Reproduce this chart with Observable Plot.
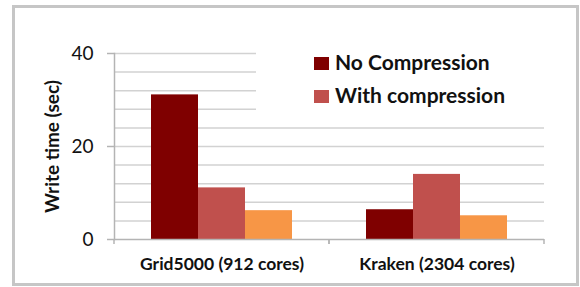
<!DOCTYPE html>
<html>
<head>
<meta charset="utf-8">
<script src="https://cdn.jsdelivr.net/npm/d3@7"></script>
<script src="https://cdn.jsdelivr.net/npm/@observablehq/plot@0.6"></script>
<style>
  html, body { margin: 0; padding: 0; background: #fff; }
  #wrap { position: relative; width: 580px; height: 287px; font-family: Lato, "Open Sans", sans-serif; }
  #border { position: absolute; left: 12px; top: 5px; width: 567px; height: 281px; box-sizing: border-box; border: 3px solid #c6c6c6; pointer-events: none; }
  #chart { position: absolute; left: 0; top: 0; }
  #legend { position: absolute; left: 256px; top: 48px; width: 292px; height: 70px; background: #fff; }
  .item { position: absolute; left: 58px; font-weight: bold; font-size: 21px; line-height: 24px; color: #111; white-space: nowrap; }
  .sw { position: absolute; width: 15px; height: 13px; left: 0; }
  .lbl { position: absolute; left: 21px; }
</style>
</head>
<body>
<div id="wrap">
  <div id="chart"></div>
  <div id="legend"></div>
  <div id="border"></div>
</div>
<script>
// Data
const groups = ["Grid5000 (912 cores)", "Kraken (2304 cores)"];
const series = ["No Compression", "With compression", "Other"];
const noCompression = [31.1, 6.4];
const withCompression = [11.1, 14.0];
const other = [6.2, 5.1];
const seriesColors = ["#7f0000", "#c0504d", "#f79646"];
const legendSeries = ["No Compression", "With compression"];
const yTicks = [0, 20, 40];
const gridValues = [4, 8, 12, 16, 20, 24, 28, 32, 36, 40];
const yLabel = "Write time (sec)";

const valuesBySeries = [noCompression, withCompression, other];
const data = [];
groups.forEach((g, gi) => {
  series.forEach((s, si) => data.push({group: g, series: s, value: valuesBySeries[si][gi]}));
});

const axisColor = "#b4b4b4";
const gridColor = "#d2d2d2";

// category boundary ticks drawn per facet from the scales
const boundaryTicks = (index, scales, values, dims) => {
  const g = d3.create("svg:g");
  const y0 = scales.y(0);
  [dims.marginLeft, dims.width - dims.marginRight].forEach(x => {
    g.append("line").attr("x1", x).attr("x2", x).attr("y1", y0).attr("y2", y0 + 5)
      .attr("stroke", axisColor).attr("stroke-width", 1.5);
  });
  return g.node();
};

const chart = Plot.plot({
  width: 580,
  height: 287,
  marginLeft: 114,
  marginRight: 36,
  marginTop: 53,
  marginBottom: 48,
  style: {fontFamily: "Lato, 'Open Sans', sans-serif", color: "#111", background: "transparent"},
  fx: {domain: groups, padding: 0},
  x: {domain: series, paddingInner: 0, paddingOuter: 0.74, axis: null},
  y: {domain: [0, 40]},
  color: {domain: series, range: seriesColors},
  marks: [
    Plot.ruleY(gridValues, {stroke: gridColor, strokeWidth: 1.5}),
    Plot.barY(data, {fx: "group", x: "series", y: "value", fill: "series", inset: 0}),
    Plot.ruleY([0], {stroke: axisColor, strokeWidth: 1.5}),
    Plot.frame({anchor: "left", stroke: axisColor, strokeWidth: 1.5, facetAnchor: "left"}),
    boundaryTicks,
    Plot.axisY(yTicks, {tickSize: 7, tickPadding: 14, fontSize: 19, stroke: axisColor, strokeWidth: 1.5, label: null}),
    Plot.axisFx({anchor: "bottom", tickSize: 0, tickPadding: 18, fontSize: 17.5, fontWeight: "bold", label: null}),
    Plot.text([yLabel], {frameAnchor: "left", textAnchor: "middle", rotate: -90, dx: -62, fontSize: 19, fontWeight: "bold", facetAnchor: "left"})
  ]
});
document.getElementById("chart").appendChild(chart);

// Legend
const legend = document.getElementById("legend");
const rowTops = [6, 39];
legendSeries.forEach((s, i) => {
  const item = document.createElement("div");
  item.className = "item";
  item.style.top = rowTops[i] + "px";
  const sw = document.createElement("span");
  sw.className = "sw";
  sw.style.background = seriesColors[series.indexOf(s)];
  sw.style.top = "3px";
  const lb = document.createElement("span");
  lb.className = "lbl";
  lb.style.top = "-4px";
  lb.textContent = s;
  item.appendChild(sw);
  item.appendChild(lb);
  legend.appendChild(item);
});
</script>
</body>
</html>
